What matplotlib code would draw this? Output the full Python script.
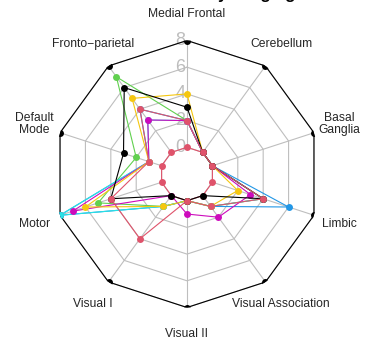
import numpy as np
import matplotlib.pyplot as plt

plt.rcParams['font.family'] = ['Liberation Sans', 'DejaVu Sans']

# spokes, counter-clockwise from the top
labels = ['Medial Frontal', 'Fronto\u2212parietal', 'Default\nMode', 'Motor', 'Visual I',
          'Visual II', 'Visual Association', 'Limbic', 'Basal\nGanglia', 'Cerebellum']

max_row = [8, 8, 8, 8, 8, 8, 8, 8, 8, 8]
min_row = [0, 0, 0, 0, 0, 0, 0, 0, 0, 0]
green = [2, 7, 2, 5, 1, 0, 1, 4, 0, 0]
blue = [2, 4, 1, 8, 1, 0, 1, 6, 0, 0]
cyan = [2, 3, 1, 8, 1, 0, 1, 4, 0, 0]
magenta = [2, 3, 1, 7, 0, 1, 2, 3, 0, 0]
yellow = [4, 5, 1, 6, 1, 0, 1, 2, 0, 0]
black2 = [3, 6, 3, 4, 0, 0, 0, 4, 0, 0]
red2 = [2, 4, 1, 4, 4, 0, 1, 4, 0, 0]

rows = [max_row, min_row, green, blue, cyan, magenta, yellow, black2, red2]
cols = ['black', '#DF536B', '#61D04F', '#2297E6', '#28E2E5', '#CD0BBC', '#F5C710',
        'black', '#DF536B']

ticks = [0, 2, 4, 6, 8]
gap = 2  # inner hole, in data units

W, H = 366, 345
cx, cy, R = 187, 174, 133.5

fig = plt.figure(figsize=(W / 100, H / 100), dpi=100)
ax = fig.add_axes([(cx - R) / W, (H - cy - R) / H, 2 * R / W, 2 * R / H], polar=True)
ax.set_theta_offset(np.pi / 2)
ax.set_ylim(0, ticks[-1] + gap)
ax.axis('off')

n = len(labels)
ang = np.arange(n) * 2 * np.pi / n
ang_c = np.append(ang, ang[0])

# web
for t in ticks:
    ax.plot(ang_c, np.full(n + 1, t + gap), color='#bebebe', lw=0.8, zorder=1)
for a in ang:
    ax.plot([a, a], [gap, ticks[-1] + gap], color='#bebebe', lw=0.8, zorder=1)

# axis numbers sit a little left of the top spoke
for t in ticks:
    x = -0.05 * (ticks[-1] + gap)
    y = t + gap
    ax.text(np.arctan2(-x, y), np.hypot(x, y), str(t),
            ha='center', va='center', color='#bdbdbd', fontsize=13, zorder=2)

for k, (row, c) in enumerate(zip(rows, cols)):
    r = np.array(row + row[:1], dtype=float) + gap
    ax.plot(ang_c, r, color=c, lw=0.8, zorder=3 + k)
    ax.plot(ang, r[:-1], 'o', color=c, ms=5, mec='none', zorder=3 + k)

for a, lab in zip(ang, labels):
    ax.text(a, 1.2 * (ticks[-1] + gap), lab, ha='center', va='center',
            fontsize=8.7, color='#262626', linespacing=1.0)

# title sits mostly above the top edge
fig.text(295 / W, 1 - 2 / H, 'Functional Network Load by Imaging', ha='right',
         va='bottom', fontsize=12, fontweight='bold')

fig.savefig('out.png', dpi=100)
